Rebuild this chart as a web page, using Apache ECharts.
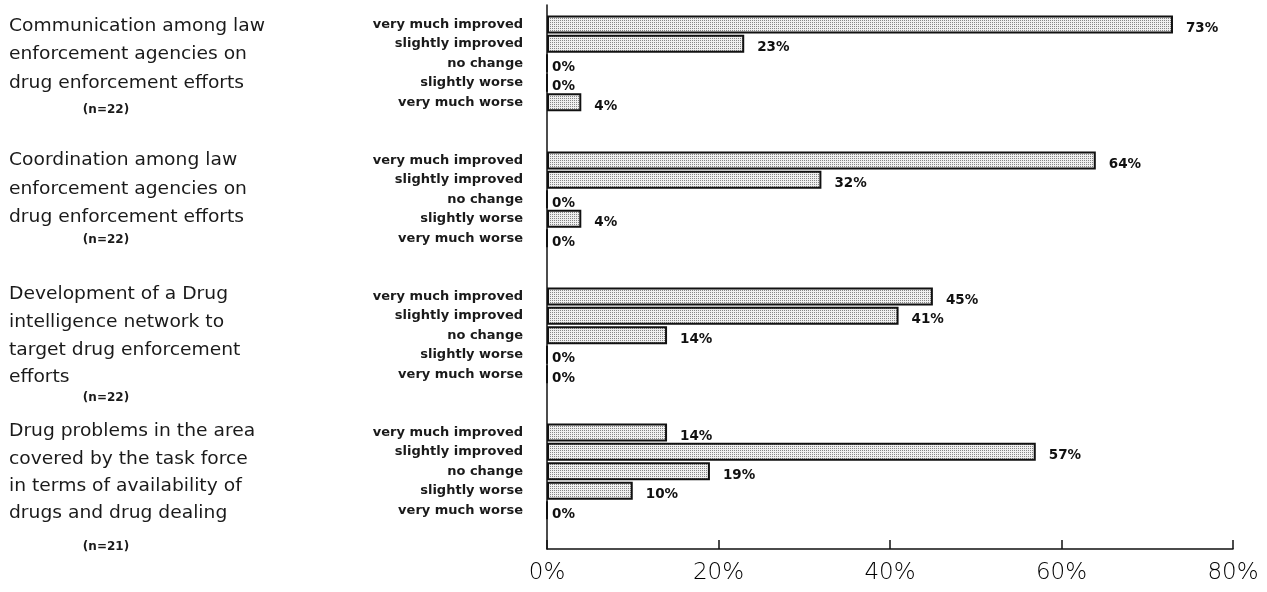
<!DOCTYPE html>
<html>
<head>
<meta charset="utf-8">
<script src="https://cdn.jsdelivr.net/npm/echarts@6/dist/echarts.min.js"></script>
<style>
html,body{margin:0;padding:0;background:#fff;}
#main{width:1267px;height:592px;}
</style>
</head>
<body>
<div id="main"></div>
<script>
// ---- data ----
const responseLabels = ['very much improved', 'slightly improved', 'no change', 'slightly worse', 'very much worse'];
const communication = [73, 23, 0, 0, 4];
const coordination = [64, 32, 0, 4, 0];
const intelligence = [45, 41, 14, 0, 0];
const drugProblems = [14, 57, 19, 10, 0];
const groupTitles = [
  ['Communication among law', 'enforcement agencies on', 'drug enforcement efforts'],
  ['Coordination among law', 'enforcement agencies on', 'drug enforcement efforts'],
  ['Development of a Drug', 'intelligence network to', 'target drug enforcement', 'efforts'],
  ['Drug problems in the area', 'covered by the task force', 'in terms of availability of', 'drugs and drug dealing']
];
const groupN = ['(n=22)', '(n=22)', '(n=22)', '(n=21)'];
const xTicks = [0, 20, 40, 60, 80];

// ---- build category axis with spacer slots ----
const groups = [communication, coordination, intelligence, drugProblems];
const cats = [''];
const vals = ['-'];
groups.forEach(function (g) {
  g.forEach(function (v, i) { cats.push(responseLabels[i]); vals.push(v); });
  cats.push(''); vals.push('-');
  cats.push(''); vals.push('-');
});

// stipple pattern
const pc = document.createElement('canvas');
pc.width = 2; pc.height = 2;
const px = pc.getContext('2d');
px.fillStyle = '#efefef'; px.fillRect(0, 0, 2, 2);
px.fillStyle = '#858585'; px.fillRect(0, 0, 1, 1);

const seriesData = vals.map(function (v) {
  if (v === '-') return '-';
  return { value: v, label: { distance: v === 0 ? 4 : 13 } };
});

const chart = echarts.init(document.getElementById('main'), null, { renderer: 'canvas' });
const option = {
  animation: false,
  backgroundColor: '#ffffff',
  grid: { left: 547, right: 34, top: 5, bottom: 43, containLabel: false },
  xAxis: {
    type: 'value', min: xTicks[0], max: xTicks[xTicks.length - 1], interval: 20,
    axisLine: { show: true, lineStyle: { color: '#111', width: 1.5 } },
    axisTick: { show: true, inside: true, length: 9, lineStyle: { color: '#111', width: 1.5 } },
    splitLine: { show: false },
    axisLabel: {
      formatter: '{value}%', margin: 13, color: '#000',
      fontFamily: 'DejaVu Sans', fontWeight: 200, fontSize: 23
    }
  },
  yAxis: {
    type: 'category', data: cats, inverse: true, boundaryGap: false,
    axisLine: { show: true, lineStyle: { color: '#111', width: 1.5 } },
    axisTick: { show: false },
    splitLine: { show: false },
    axisLabel: {
      interval: 0, margin: 24, color: '#1a1a1a',
      fontFamily: 'DejaVu Sans', fontWeight: 'bold', fontSize: 13
    }
  },
  series: [{
    type: 'bar',
    data: seriesData,
    barWidth: 18,
    itemStyle: { color: { image: pc, repeat: 'repeat' }, borderColor: '#111', borderWidth: 2 },
    label: {
      show: true, position: 'right', formatter: '{c}%', offset: [0, 4],
      color: '#111', fontFamily: 'DejaVu Sans', fontWeight: 'bold', fontSize: 13.5
    }
  }]
};
chart.setOption(option);

// group title annotations
const titleCenters = [[27, 55, 84], [161, 190, 218], [295, 323, 351, 378], [432, 460, 487, 514]];
const nCenters = [110, 240, 398, 547];
const graphics = [];
groupTitles.forEach(function (lines, gi) {
  lines.forEach(function (t, li) {
    graphics.push({
      type: 'text', x: 9, y: titleCenters[gi][li], scaleX: 1.1,
      style: { text: t, fill: '#1a1a1a', font: '17px "DejaVu Sans"', textVerticalAlign: 'middle', textAlign: 'left' }
    });
  });
  graphics.push({
    type: 'text', x: 106, y: nCenters[gi],
    style: { text: groupN[gi], fill: '#1a1a1a', font: 'bold 12px "DejaVu Sans"', textVerticalAlign: 'middle', textAlign: 'center' }
  });
});
chart.setOption({ graphic: graphics });
</script>
</body>
</html>
